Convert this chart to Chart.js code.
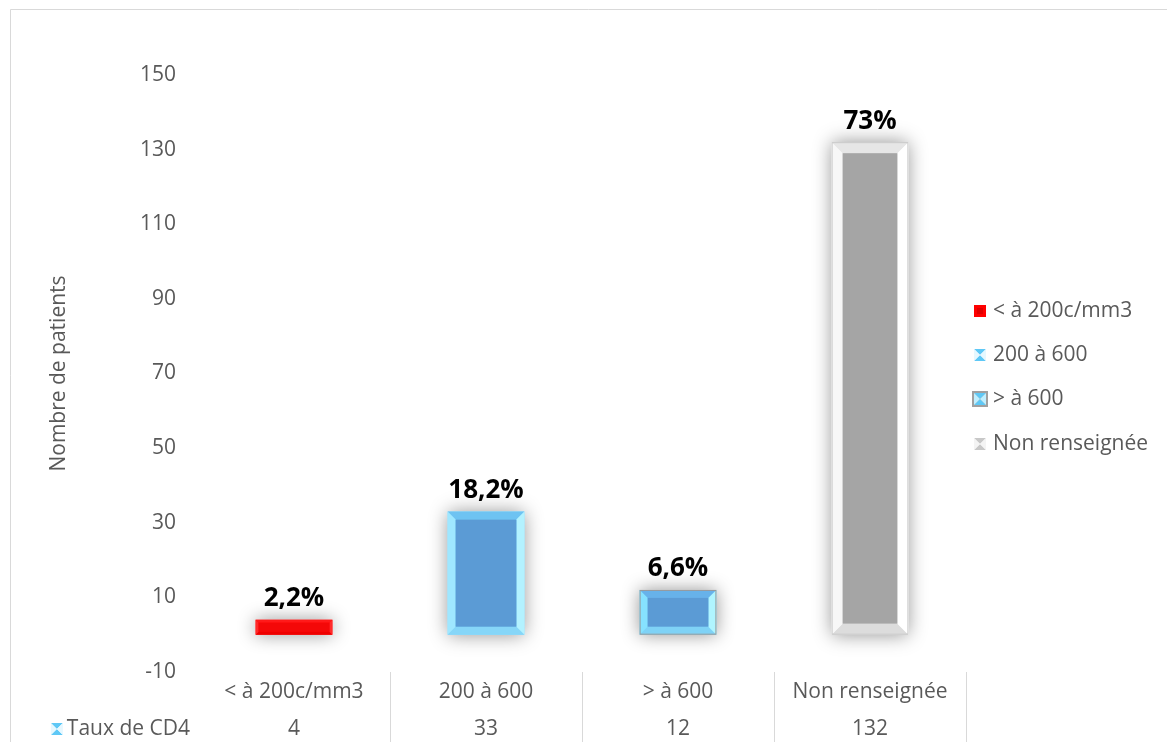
<!DOCTYPE html>
<html lang="fr">
<head>
<meta charset="utf-8">
<title>Taux de CD4</title>
<script src="https://cdn.jsdelivr.net/npm/chart.js@4/dist/chart.umd.min.js"></script>
<style>
    html, body { margin: 0; padding: 0; background: #fff; }
    #wrap { width: 1167px; height: 742px; }
</style>
</head>
<body>
<div id="wrap"><canvas id="cd4Chart" width="1167" height="742"></canvas></div>
<script>
// Patients by CD4 count
const categories = ['< à 200c/mm3', '200 à 600', '> à 600', 'Non renseignée'];
const patients = [4, 33, 12, 132];
const percentLabels = ['2,2%', '18,2%', '6,6%', '73%'];
const yTicks = [-10, 10, 30, 50, 70, 90, 110, 130, 150];
const seriesName = 'Taux de CD4';

// bevel style per bar: outer, top, left, right, bottom, inner, edge, bevel size
const bevels = [
    { outer: '#ff0000', top: '#ff1a1a', left: '#ff2a2a', right: '#ff2a2a', bottom: '#ee0000', inner: '#f40808', edge: null, size: 3 },
    { outer: '#7dd3f7', top: '#6ec3f2', left: '#9fe7ff', right: '#b3f2ff', bottom: '#86d6f8', inner: '#5b9bd5', edge: null, size: 8 },
    { outer: '#7dd3f7', top: '#67b2ea', left: '#86e2ff', right: '#b0f5ff', bottom: '#7fd2f6', inner: '#5b9bd5', edge: '#9a9a9a', size: 8 },
    { outer: '#f2f2f2', top: '#e6e6e6', left: '#f7f7f7', right: '#ffffff', bottom: '#dcdcdc', inner: '#a5a5a5', edge: '#c8c8c8', size: 11 }
];

const textColor = '#595959';
const fontFamily = '"Open Sans", "Noto Sans", sans-serif';
const fontSize = 21;

function barBox(bar) {
    const p = bar.getProps(['x', 'y', 'base', 'width'], true);
    return {
        l: p.x - p.width / 2,
        r: p.x + p.width / 2,
        t: Math.min(p.y, p.base),
        b: Math.max(p.y, p.base)
    };
}

function poly(ctx, pts, color) {
    ctx.beginPath();
    ctx.moveTo(pts[0][0], pts[0][1]);
    for (let i = 1; i < pts.length; i++) ctx.lineTo(pts[i][0], pts[i][1]);
    ctx.closePath();
    ctx.fillStyle = color;
    ctx.fill();
}

function drawBevel(ctx, box, s) {
    const { l, r, t, b } = box;
    const d = Math.min(s.size, (r - l) / 2 - 1, (b - t) / 2 - 1);
    poly(ctx, [[l, t], [r, t], [r - d, t + d], [l + d, t + d]], s.top);
    poly(ctx, [[l, b], [r, b], [r - d, b - d], [l + d, b - d]], s.bottom);
    poly(ctx, [[l, t], [l + d, t + d], [l + d, b - d], [l, b]], s.left);
    poly(ctx, [[r, t], [r - d, t + d], [r - d, b - d], [r, b]], s.right);
    ctx.fillStyle = s.inner;
    ctx.fillRect(l + d, t + d, r - l - 2 * d, b - t - 2 * d);
    if (s.edge) {
        ctx.strokeStyle = s.edge;
        ctx.lineWidth = 1;
        ctx.strokeRect(l + 0.5, t + 0.5, r - l - 1, b - t - 1);
    }
}

// small legend / table keys
function drawKey(ctx, i, x, y) {
    const box = { l: x, r: x + 12, t: y - 6, b: y + 6 };
    if (i === 0) {
        ctx.fillStyle = '#ff0000';
        ctx.fillRect(box.l, box.t, 12, 12);
        ctx.fillStyle = '#e00000';
        ctx.fillRect(box.l + 3, box.t + 3, 6, 6);
        return;
    }
    const c = i === 1 ? { tb: '#5ec8f6', lr: '#e6f8ff' } : i === 2 ? { tb: '#5ec8f6', lr: '#bfefff' } : { tb: '#c8c8c8', lr: '#f4f4f4' };
    if (i === 2) {
        ctx.fillStyle = '#a0a0a0';
        ctx.fillRect(box.l - 2, box.t - 2, 16, 16);
    }
    const { l, r, t, b } = box;
    const m = (l + r) / 2, my = (t + b) / 2;
    poly(ctx, [[l, t], [r, t], [m, my]], c.tb);
    poly(ctx, [[l, b], [r, b], [m, my]], c.tb);
    poly(ctx, [[l, t], [m, my], [l, b]], c.lr);
    poly(ctx, [[r, t], [m, my], [r, b]], c.lr);
}

const bevelBars = {
    id: 'bevelBars',
    beforeDraw(chart) {
        const ctx = chart.ctx;
        ctx.save();
        ctx.fillStyle = '#fff';
        ctx.fillRect(0, 0, chart.width, chart.height);
        ctx.strokeStyle = '#d9d9d9';
        ctx.lineWidth = 1;
        ctx.beginPath();
        ctx.moveTo(10.5, chart.height);
        ctx.lineTo(10.5, 9.5);
        ctx.lineTo(chart.width, 9.5);
        ctx.stroke();
        ctx.restore();
    },
    beforeDatasetsDraw(chart) {
        // soft halo beneath each bar
        const ctx = chart.ctx;
        const meta = chart.getDatasetMeta(0);
        ctx.save();
        meta.data.forEach((bar) => {
            const box = barBox(bar);
            ctx.shadowColor = 'rgba(0, 0, 0, 0.42)';
            ctx.shadowBlur = 18;
            ctx.fillStyle = '#ffffff';
            ctx.fillRect(box.l, box.t, box.r - box.l, box.b - box.t);
        });
        ctx.restore();
    },
    afterDatasetsDraw(chart) {
        const ctx = chart.ctx;
        const meta = chart.getDatasetMeta(0);
        ctx.save();
        meta.data.forEach((bar, i) => {
            const box = barBox(bar);
            drawBevel(ctx, box, bevels[i]);
            ctx.fillStyle = '#000';
            ctx.font = 'bold 26px ' + fontFamily;
            ctx.textAlign = 'center';
            ctx.textBaseline = 'bottom';
            ctx.fillText(percentLabels[i], (box.l + box.r) / 2, box.t - 8);
        });
        ctx.restore();
    },
    afterDraw(chart) {
        const ctx = chart.ctx;
        const area = chart.chartArea;
        const x = chart.scales.x;
        const colW = area.width / categories.length;
        ctx.save();

        // data table under the plot
        ctx.strokeStyle = '#d9d9d9';
        ctx.lineWidth = 1;
        categories.forEach((c, i) => {
            const cx = x.getPixelForValue(i);
            const rx = Math.round(cx + colW / 2) + 0.5;
            ctx.beginPath();
            ctx.moveTo(rx, area.bottom);
            ctx.lineTo(rx, chart.height);
            ctx.stroke();
        });
        ctx.fillStyle = textColor;
        ctx.font = fontSize + 'px ' + fontFamily;
        ctx.textAlign = 'center';
        ctx.textBaseline = 'middle';
        categories.forEach((c, i) => {
            const cx = x.getPixelForValue(i);
            ctx.fillText(c, cx, area.bottom + 20);
            ctx.fillText(String(patients[i]), cx, area.bottom + 57);
        });
        ctx.textAlign = 'right';
        const nameRight = area.left - 8;
        ctx.fillText(seriesName, nameRight, area.bottom + 57);
        const nameW = ctx.measureText(seriesName).width;
        drawKey(ctx, 1, nameRight - nameW - 16, area.bottom + 57);

        // legend on the right
        ctx.textAlign = 'left';
        const ly = [311, 355, 399, 444];
        categories.forEach((c, i) => {
            drawKey(ctx, i, area.right + 8, ly[i]);
            ctx.fillStyle = textColor;
            ctx.fillText(c, area.right + 27, ly[i]);
        });
        ctx.restore();
    }
};

const ctx = document.getElementById('cd4Chart').getContext('2d');
new Chart(ctx, {
    type: 'bar',
    data: {
        labels: categories,
        datasets: [{
            label: seriesName,
            data: patients,
            backgroundColor: bevels.map(b => b.outer),
            borderWidth: 0,
            categoryPercentage: 1,
            barPercentage: 0.4
        }]
    },
    options: {
        responsive: false,
        animation: false,
        layout: {
            padding: { left: 46, right: 201, top: 75, bottom: 70 }
        },
        plugins: {
            legend: { display: false },
            tooltip: { enabled: false }
        },
        scales: {
            x: {
                display: false
            },
            y: {
                min: -10,
                max: 150,
                afterBuildTicks(scale) {
                    scale.ticks = yTicks.map(v => ({ value: v }));
                },
                afterFit(scale) {
                    scale.width = 152;
                },
                grid: { display: false, drawTicks: false },
                border: { display: false },
                ticks: {
                    padding: 22,
                    color: textColor,
                    font: { family: fontFamily, size: fontSize }
                },
                title: {
                    display: true,
                    text: 'Nombre de patients',
                    color: textColor,
                    padding: 0,
                    font: { family: fontFamily, size: fontSize }
                }
            }
        }
    },
    plugins: [bevelBars]
});
</script>
</body>
</html>
